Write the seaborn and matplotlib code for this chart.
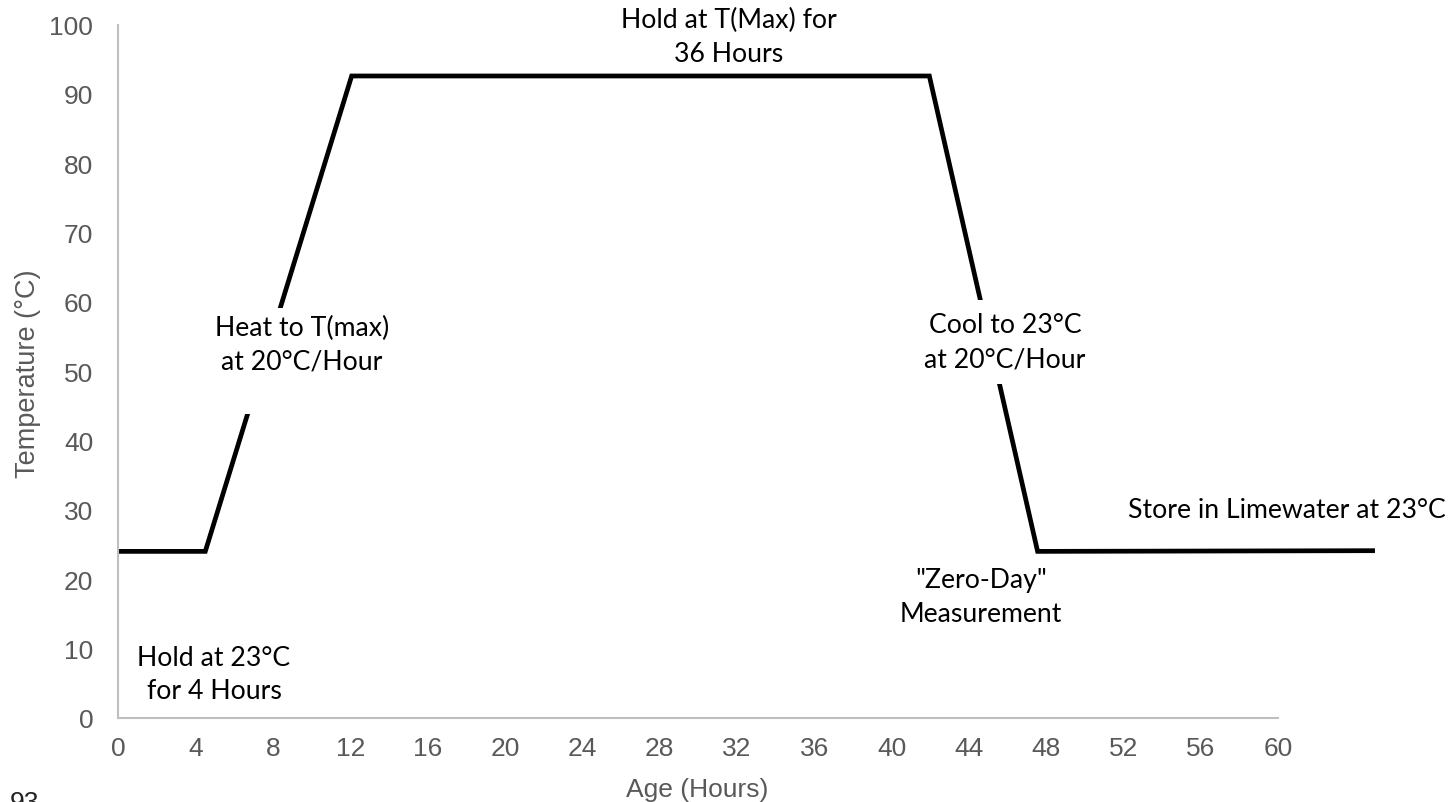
import matplotlib
matplotlib.use("Agg")
import matplotlib.pyplot as plt
import seaborn as sns
import pandas as pd

# ---- data ----
hours = [0.0, 4.5, 12.07, 41.95, 47.55, 65.0]
temps = [24.0, 24.0, 92.6, 92.6, 24.0, 24.1]
x_ticks = [0, 4, 8, 12, 16, 20, 24, 28, 32, 36, 40, 44, 48, 52, 56, 60]
y_ticks = [0, 10, 20, 30, 40, 50, 60, 70, 80, 90, 100]
x_label = "Age (Hours)"
y_label = "Temperature (°C)"

sns.set_theme(style="white")
plt.rcParams["font.family"] = ["Liberation Sans", "DejaVu Sans"]

W, H = 1451, 803
fig = plt.figure(figsize=(W / 100, H / 100), dpi=100)
ax = fig.add_axes([118.3 / W, 1 - 718.7 / H, (1278.3 - 118.3) / W, (718.7 - 25.7) / H])

df = pd.DataFrame({"Age": hours, "Temp": temps})
sns.lineplot(data=df, x="Age", y="Temp", ax=ax, color="black", linewidth=3.4,
             sort=False, estimator=None)
for ln in ax.lines:
    ln.set_clip_on(False)
    ln.set_solid_capstyle("butt")
    ln.set_solid_joinstyle("miter")

ax.set_xlim(0, 60)
ax.set_ylim(0, 100)
ax.set_xticks(x_ticks)
ax.set_yticks(y_ticks)

grey = "#BFBFBF"
lab = "#595959"
for s in ["top", "right"]:
    ax.spines[s].set_visible(False)
for s in ["left", "bottom"]:
    ax.spines[s].set_color(grey)
    ax.spines[s].set_linewidth(1.5)
ax.tick_params(axis="both", which="major", direction="out", length=6, width=1.1,
               color=grey, labelcolor=lab, labelsize=19)
ax.tick_params(axis="y", pad=12)
ax.tick_params(axis="x", pad=7)
ax.grid(False)
ax.set_xlabel("")
ax.set_ylabel("")

fig.text(697 / W, 1 - 790 / H, x_label, ha="center", va="center", fontsize=19, color=lab)
fig.text(28 / W, 1 - 374 / H, y_label, ha="center", va="center", rotation=90,
         fontsize=19.5, color=lab)

ann = dict(fontfamily=["Lato", "DejaVu Sans"], fontsize=19.2, color="black",
           ha="center", va="center", linespacing=1.45)

def px(x, y):
    return (x / W, 1 - y / H)

fig.text(*px(729, 37), "Hold at T(Max) for\n36 Hours", **ann)
fig.text(*px(302, 362), "Heat to T(max)\nat 20°C/Hour\n", **ann,
         bbox=dict(facecolor="white", edgecolor="none", pad=5))
fig.text(*px(1005, 343), "Cool to 23°C\nat 20°C/Hour", **ann,
         bbox=dict(facecolor="white", edgecolor="none", pad=9))
fig.text(*px(1287, 511), "Store in Limewater at 23°C", **ann)
fig.text(*px(981, 598), "\"Zero-Day\"\nMeasurement", **ann)
fig.text(*px(214, 675), "Hold at 23°C\nfor 4 Hours", **ann)

fig.text(10 / W, 1 - 810 / H, "93", ha="left", va="baseline", fontsize=19, color="#222222")

fig.savefig("out.png", dpi=100)
